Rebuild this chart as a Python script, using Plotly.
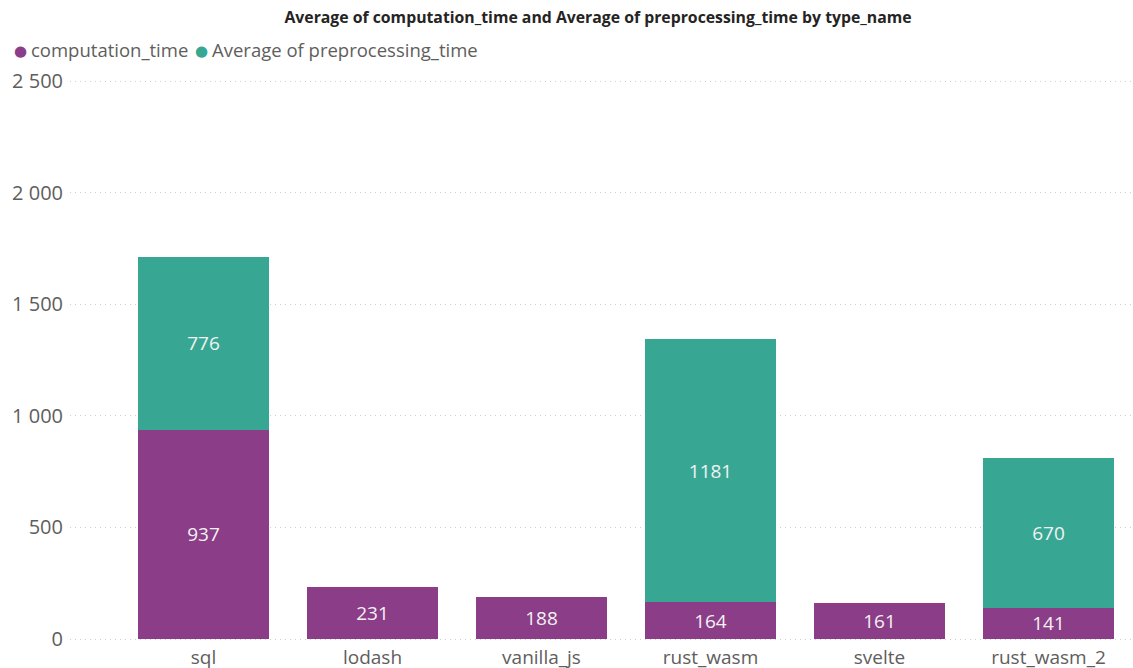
import plotly.graph_objects as go

categories = ["sql", "lodash", "vanilla_js", "rust_wasm", "svelte", "rust_wasm_2"]
computation_time = [937, 231, 188, 164, 161, 141]
preprocessing_time = [776, None, None, 1181, None, 670]
y_ticks = [0, 500, 1000, 1500, 2000, 2500]
series_names = ["computation_time", "Average of preprocessing_time"]

PURPLE = "#8B3D87"
TEAL = "#37A794"
FONT = "Open Sans"

W, H = 1133, 668
ML, MR, MT, MB = 70, 0, 76, 24
PW, PH = W - ML - MR, H - MT - MB

fig = go.Figure()
fig.add_bar(x=categories, y=computation_time, name=series_names[0],
            marker=dict(color=PURPLE, line=dict(width=0)),
            text=computation_time, textposition="inside", insidetextanchor="middle",
            textfont=dict(color="#F2F2F2", size=19, family=FONT), showlegend=False)
fig.add_bar(x=categories, y=preprocessing_time, name=series_names[1],
            marker=dict(color=TEAL, line=dict(width=0)),
            text=preprocessing_time, textposition="inside", insidetextanchor="middle",
            textfont=dict(color="#F2F2F2", size=19, family=FONT), showlegend=False)

fig.update_layout(
    barmode="stack", bargap=0.22,
    width=W, height=H,
    margin=dict(l=ML, r=MR, t=MT, b=MB, autoexpand=False),
    paper_bgcolor="white", plot_bgcolor="white",
    separators=". ",
    font=dict(family=FONT, color="#605E5C", size=19),
    title=dict(text="<b>Average of computation_time and Average of preprocessing_time by type_name</b>",
               x=598 / W, xref="container", xanchor="center",
               y=1 - 17 / H, yref="container", yanchor="middle",
               font=dict(family="Open Sans", size=15.8, color="#252423")),
    xaxis=dict(range=[-0.79, 5.5], showgrid=False, showline=False, ticks="",
               ticklabelstandoff=0, automargin=False,
               tickfont=dict(size=19, color="#605E5C")),
    yaxis=dict(range=[-22.4, 2522.4], tickvals=y_ticks, tickformat=",d",
               showgrid=True, gridcolor="#CFCFCF", griddash="1px,4px", gridwidth=1,
               zeroline=False, showline=False, ticks="",
               ticklabelstandoff=6, automargin=False,
               tickfont=dict(size=20, color="#605E5C")),
    uniformtext=dict(minsize=19, mode="show"),
)

def px_x(p):
    return (p - ML) / PW

def px_y(p):
    return (H - MB - p) / PH

legend_y = 50
for dot_x, text_x, color, name in [(20, 29, PURPLE, series_names[0]),
                                    (201, 210, TEAL, series_names[1])]:
    fig.add_annotation(xref="paper", yref="paper", x=px_x(dot_x), y=px_y(legend_y + 1),
                       xanchor="center", yanchor="middle", showarrow=False,
                       text="●", font=dict(size=15, color=color, family="DejaVu Sans"))
    fig.add_annotation(xref="paper", yref="paper", x=px_x(text_x), y=px_y(legend_y),
                       xanchor="left", yanchor="middle", showarrow=False,
                       text=name, font=dict(size=18.5, color="#605E5C", family=FONT))

fig.write_html("out.html")
